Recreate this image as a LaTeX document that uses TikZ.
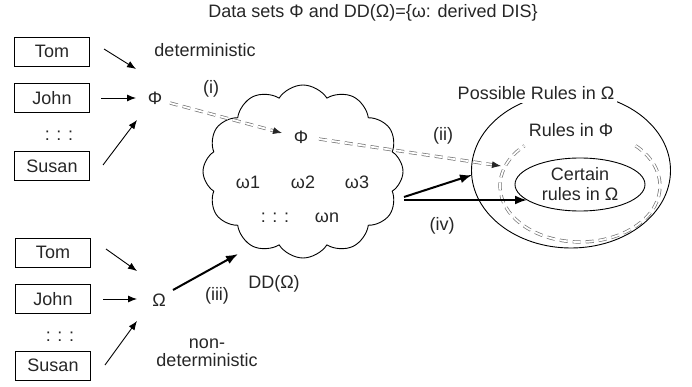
\documentclass[tikz,border=0pt]{standalone}
\usepackage{fontspec}
\setmainfont{Liberation Sans}
\usetikzlibrary{shapes.geometric,shapes.symbols,arrows.meta,calc}
\begin{document}
\begin{tikzpicture}[x=1pt,y=-1pt,
  font=\fontsize{18}{20}\selectfont,
  lbl/.style={inner sep=0pt, text=black!85},
  person/.style={draw, line width=0.8pt, minimum width=75pt, minimum height=29pt, inner sep=0pt, text=black!85},
  arr/.style={line width=0.9pt, -{Latex[length=9pt,width=7pt]}},
  thickarr/.style={line width=2pt, -{Latex[length=12pt,width=9pt]}},
  ddash/.style={draw=black!55, line width=0.7pt, double=white, double distance=1.8pt, dash pattern=on 8pt off 5pt},
  tipd/.style={line width=0.8pt, black!85, -{Latex[length=9pt,width=7pt]}},
]
\useasboundingbox (0,0) rectangle (692,387);

% title
\node[lbl] (title) at (373,13) {Data sets Φ and DD(Ω)=\{ω: derived DIS\}};

% deterministic group
\node[person] (tom1) at (52,51.5) {Tom};
\node[person] (john1) at (52,98) {John};
\node[lbl] (dots1) at (59,136) {: : :};
\node[person] (susan1) at (52,166) {Susan};
\node[lbl] (phi1) at (155,98) {Φ};
\node[lbl] (det) at (205,50) {deterministic};

\coordinate (a1s) at (104,49);  \coordinate (a1e) at (136,69);
\coordinate (a2s) at (101,98);  \coordinate (a2e) at (136,98);
\coordinate (a3s) at (103,165); \coordinate (a3e) at (137,120);
\draw[arr] (a1s) -- (a1e);
\draw[arr] (a2s) -- (a2e);
\draw[arr] (a3s) -- (a3e);

% non-deterministic group
\node[person] (tom2) at (53,252.5) {Tom};
\node[person] (john2) at (53,299) {John};
\node[lbl] (dots2) at (60,337) {: : :};
\node[person] (susan2) at (53,365.5) {Susan};
\node[lbl] (om1) at (159,300) {Ω};
\node[lbl, align=center, font=\fontsize{18}{18}\selectfont] (ndet) at (207,353) {non-\\deterministic};

\coordinate (b1s) at (106,249); \coordinate (b1e) at (137,271);
\coordinate (b2s) at (103,299); \coordinate (b2e) at (137,299);
\coordinate (b3s) at (105,365); \coordinate (b3e) at (137,321);
\draw[arr] (b1s) -- (b1e);
\draw[arr] (b2s) -- (b2e);
\draw[arr] (b3s) -- (b3e);

% cloud
\node[cloud, draw, line width=0.9pt, cloud puffs=12, cloud puff arc=115, aspect=1.2,
      minimum width=200pt, minimum height=173pt, inner sep=0pt] (cl) at (303,171.5) {};
\node[lbl] (phi2) at (301,137) {Φ};
\node[lbl] (w1) at (248,182) {ω1};
\node[lbl] (w2) at (303,182) {ω2};
\node[lbl] (w3) at (357,182) {ω3};
\node[lbl] (dots3) at (275,218) {: : :};
\node[lbl] (wn) at (327,218) {ωn};
\node[lbl] (dd) at (274,284) {DD(Ω)};

% (iii)
\coordinate (c3s) at (173,290); \coordinate (c3e) at (238,254);
\draw[thickarr] (c3s) -- (c3e);
\node[lbl] (l3) at (217,296) {(iii)};

% ellipses
\node[ellipse, draw, line width=0.9pt, minimum width=199pt, minimum height=155pt, inner sep=0pt] (outer) at (571,170.5) {};
\node[lbl, fill=white, inner xsep=3pt, inner ysep=3pt] (possible) at (536,93) {Possible Rules in Ω};
\coordinate (rphi) at (580,186);
\draw[ddash] (rphi) ++(-46:80 and 56) arc[start angle=-46, end angle=226, x radius=80, y radius=56];
\node[lbl] (rulesphi) at (571,130) {Rules in Φ};
\node[ellipse, draw, line width=0.9pt, minimum width=130pt, minimum height=53pt, inner sep=0pt, align=center, text=black!85] (certain) at (580,184.5) {Certain\\rules in Ω};

% (i) dashed
\coordinate (ia) at (170,103); \coordinate (ib) at (282,133);
\draw[ddash, shorten >=8pt] (ia) -- (ib);
\draw[tipd] ($(ib)!9pt!(ia)$) -- (ib);
\node[lbl] (l1) at (211,89) {(i)};

% (ii) dashed
\coordinate (iia) at (319,139); \coordinate (iib) at (501,166);
\draw[ddash, shorten >=8pt] (iia) -- (iib);
\draw[tipd] ($(iib)!9pt!(iia)$) -- (iib);
\node[lbl] (l2) at (443,136) {(ii)};

% (iv)
\coordinate (ivs1) at (404,197); \coordinate (ive1) at (472,175);
\coordinate (ivs2) at (404,200); \coordinate (ive2) at (527,200);
\draw[thickarr] (ivs1) -- (ive1);
\draw[thickarr] (ivs2) -- (ive2);
\node[lbl] (l4) at (442,226) {(iv)};
\end{tikzpicture}
\end{document}
